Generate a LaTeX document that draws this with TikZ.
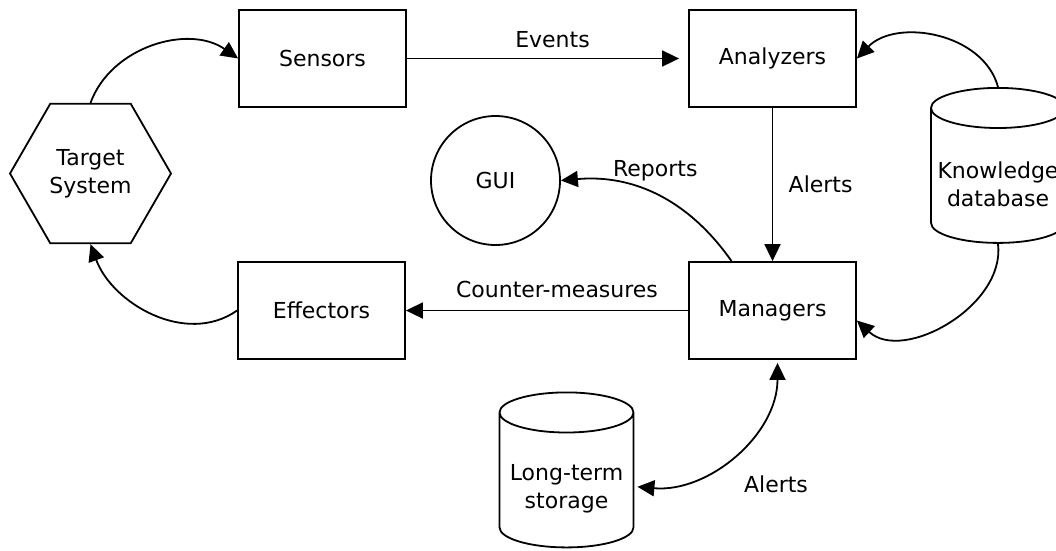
\documentclass[tikz,border=0pt]{standalone}
\usepackage{fontspec}
\setmainfont{DejaVu Sans}
\usetikzlibrary{shapes.geometric,arrows.meta,positioning}
\tikzstyle{BOX} = [rectangle, draw, line width=1.8pt, minimum width=167pt, minimum height=97pt, text centered]
\tikzstyle{HEXAGON} = [regular polygon, regular polygon sides=6, draw, line width=1.8pt, minimum size=161pt, inner sep=0pt, align=center]
\tikzstyle{DB} = [cylinder, shape border rotate=90, draw, line width=1.8pt, aspect=0.3, minimum width=134pt, minimum height=155pt]
\tikzstyle{ROUND} = [circle, draw, line width=1.8pt, minimum size=129pt]
\tikzstyle{ARROW} = [draw, line width=1.8pt, ->]

\begin{document}
\begin{tikzpicture}[x=1pt, y=1pt, node distance=450pt, >={Triangle[length=17pt,width=16pt]}, font=\fontsize{22}{28}\selectfont]
\useasboundingbox (0,0) rectangle (1056,-550);
% Place nodes
\node [BOX] (sensors) at (322.5,-58.5) {Sensors};
\node [BOX, right of=sensors] (analyzers) {Analyzers};
\node [BOX, below of=analyzers, node distance=252pt] (managers) {Managers};
\node [BOX, left of=managers, node distance=451pt] (effectors) {Effectors};
\node [HEXAGON, left of=sensors, node distance=232pt, yshift=-115pt] (target) {Target\\System};
\node [ROUND, left of=managers, node distance=277pt, yshift=130pt] (gui) {GUI};
\node [DB, right of=analyzers, node distance=225.5pt, yshift=-120.5pt,
  label={[align=center, yshift=-5pt]center:Knowledge\\database}] (knowledge) {\hspace*{127pt}};
\node [DB, below of=managers, node distance=173pt, xshift=-206pt,
  label={[align=center, yshift=-5.5pt]center:Long-term\\storage}] (storage) {\hspace*{127pt}};
% LINES and ARROWS
\path [ARROW] (target.north) to[out=70,in=145] (sensors.west);
\path [ARROW] (effectors.west) to[out=-145,in=-70] (target.south);
\path [ARROW, shorten >=9pt] (sensors) -- node[above=6pt, xshift=5pt] {Events} (analyzers);
\path [ARROW] (analyzers) -- node[right=12pt] {Alerts} (managers);
\path [ARROW] (managers) -- node[above=8pt, xshift=10pt] {Counter-measures} (effectors);
\path [ARROW] ([xshift=-41pt]managers.north) to[out=125,in=5] node[pos=0.55, above=7pt, xshift=6pt] {Reports} (gui.east);
\path [ARROW] (knowledge.north) to[out=105,in=46] (analyzers.east);
\path [ARROW] (knowledge.south) to[out=-83,in=-43] ([yshift=-10pt]managers.east);
\path [ARROW, <->, shorten <=3pt, shorten >=3pt] ([xshift=5pt]managers.south) to[out=-90,in=-5] node[pos=0.5, below right, yshift=-18pt, xshift=6pt] {Alerts} ([yshift=-3pt]storage.east);
\end{tikzpicture}
\end{document}
